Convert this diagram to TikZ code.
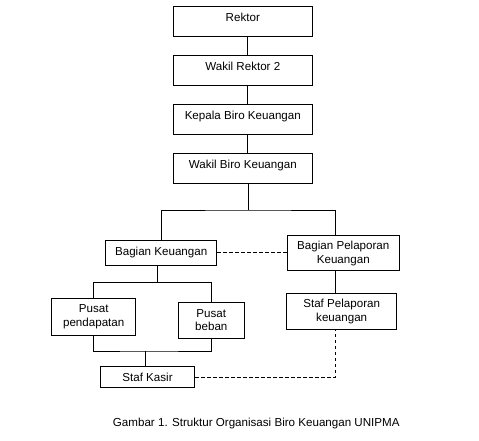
\documentclass[tikz,border=0pt]{standalone}
\usepackage{fontspec}
\setmainfont{Liberation Sans}
\usetikzlibrary{positioning,calc}
\tikzset{
  orgbox/.style={
    rectangle,
    draw=black, line width=1pt,
    minimum height=29.5pt,
    inner sep=2pt,
    align=center,
    font=\fontsize{11.6}{13.4}\selectfont},
  topbox/.style={orgbox, minimum width=139pt, text height=8.5pt, text depth=9.6pt},
  line/.style={draw, line width=1pt},
  dashline/.style={draw, line width=1pt, dash pattern=on 3.5pt off 2.5pt}
}

\begin{document}
\begin{tikzpicture}
  [x=1pt, y=-1pt,
  node distance=18.5pt]
  \useasboundingbox (0,0) rectangle (479,440);

  % top column
  \node[topbox] (rektor) at (242.8,21.7) {Rektor};
  \node[topbox, below=of rektor] (wakilrektor) {Wakil Rektor 2};
  \node[topbox, below=of wakilrektor] (kepala) {Kepala Biro Keuangan};
  \node[topbox, minimum height=30pt, below=of kepala] (wakilbiro) {Wakil Biro Keuangan};

  % the two sections
  \node[orgbox, minimum width=111pt, minimum height=25pt] (bagkeu) at (161.2,252.5) {Bagian Keuangan};
  \node[orgbox, minimum width=112pt, minimum height=35pt] (baglap) at (343.3,253.3) {Bagian Pelaporan\\Keuangan};
  \node[orgbox, minimum width=84pt, minimum height=37pt] (pusatpd) at (93.7,316.7) {Pusat\\pendapatan};
  \node[orgbox, minimum width=66pt, minimum height=36pt] (pusatbb) at (211.3,320.3) {Pusat\\beban};
  \node[orgbox, minimum width=110pt, minimum height=36pt] (staflap) at (341.7,311.3) {Staf Pelaporan\\keuangan};
  \node[orgbox, minimum width=94pt, minimum height=21pt] (stafkas) at (147.5,377) {Staf Kasir};

  \coordinate (spine) at (247.5,0);
  \coordinate (split) at (248,210);
  \coordinate (rcol) at (335,0);
  \coordinate (split2) at (157.3,282.7);
  \coordinate (joinkas) at (145.7,351);

  \draw[line] (rektor.south -| spine) -- (wakilrektor.north -| spine);
  \draw[line] (wakilrektor.south -| spine) -- (kepala.north -| spine);
  \draw[line] (kepala.south -| spine) -- (wakilbiro.north -| spine);
  \draw[line] (wakilbiro.south -| split) -- (split);
  \draw[line] (bagkeu.north) |- (split) -| (baglap.north -| rcol);

  \draw[line] (bagkeu.south -| split2) -- (split2);
  \draw[line] (pusatpd.north) |- (split2) -| (pusatbb.north);
  \draw[line] (pusatpd.south) |- (joinkas) -| (pusatbb.south);
  \draw[line] (joinkas) -- (stafkas.north -| joinkas);

  \draw[line] (baglap.south -| rcol) -- (staflap.north -| rcol);
  \draw[dashline] (bagkeu.east) -- (baglap.west |- bagkeu.east);
  \draw[dashline] (stafkas.east) -| (staflap.south -| rcol);

  \node[font=\fontsize{11.6}{13.4}\selectfont] (caption) at (256.3,423.3)
    {Gambar 1. Struktur Organisasi Biro Keuangan UNIPMA};
\end{tikzpicture}
\end{document}
